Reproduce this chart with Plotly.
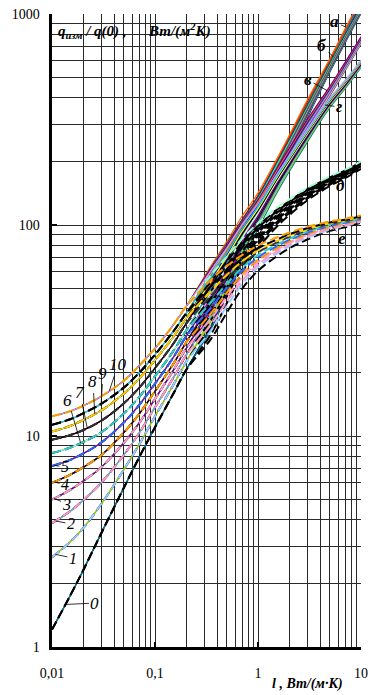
import numpy as np
import plotly.graph_objects as go

# ---------------- data ----------------
# numbered curves 0..10, common low-l part (all branches coincide there)
X_LOW = [0.01, 0.015, 0.02, 0.03, 0.05, 0.07, 0.1, 0.15, 0.2]
LOW_0 = [1.21, 1.75, 2.3, 3.45, 5.7, 7.9, 11.0, 15.8, 20.5]
LOW_1 = [2.66, 3.15, 3.65, 4.75, 6.95, 9.1, 12.4, 17.4, 22.4]
LOW_2 = [3.86, 4.4, 4.95, 6.0, 8.15, 10.3, 13.7, 18.8, 24.1]
LOW_3 = [5.0, 5.55, 6.1, 7.1, 9.3, 11.5, 15.0, 20.4, 25.9]
LOW_4 = [6.0, 6.55, 7.1, 8.1, 10.4, 12.7, 16.3, 21.9, 27.7]
LOW_5 = [7.2, 7.7, 8.25, 9.3, 11.6, 14.0, 17.7, 23.5, 29.6]
LOW_6 = [8.3, 8.8, 9.35, 10.4, 12.8, 15.3, 19.2, 25.2, 31.5]
LOW_7 = [9.6, 10.1, 10.65, 11.8, 14.3, 16.9, 21.0, 27.3, 34.0]
LOW_8 = [10.5, 11.15, 11.9, 13.2, 15.9, 18.7, 22.9, 29.4, 36.0]
LOW_9 = [11.3, 12.0, 12.8, 14.2, 17.0, 19.9, 24.3, 31.2, 38.0]
LOW_10 = [12.4, 13.1, 13.9, 15.4, 18.3, 21.5, 26.0, 33.5, 41.0]
LOW = [LOW_0, LOW_1, LOW_2, LOW_3, LOW_4, LOW_5, LOW_6, LOW_7, LOW_8, LOW_9, LOW_10]
NUMBERS = ["0", "1", "2", "3", "4", "5", "6", "7", "8", "9", "10"]

# branches а..е: top curve (curve 10) of each stack, high-l part
X_HIGH = [0.35, 0.5, 0.7, 1, 1.5, 2, 3, 5, 7, 10]
HIGH_A = [64, 84, 110, 142, 203, 265, 390, 615, 850, 1180]
HIGH_B = [63, 82, 106, 137, 195, 253, 368, 590, 800, 1090]
HIGH_V = [62, 80, 103, 132, 183, 230, 315, 455, 590, 780]
HIGH_G = [61, 78, 100, 126, 172, 212, 283, 400, 485, 605]
HIGH_D = [58, 71, 86, 102, 120, 132, 150, 170, 183, 200]
HIGH_E = [55, 64, 72, 80, 87, 92, 98, 104, 107, 111]
BRANCHES = ["а", "б", "в", "г", "д", "е"]
HIGH = [HIGH_A, HIGH_B, HIGH_V, HIGH_G, HIGH_D, HIGH_E]
# depth of the stack (log10 of top / bottom curve) at each X_HIGH
STACK_DEPTH = [0.28, 0.22, 0.16, 0.12, 0.09, 0.075, 0.06, 0.045, 0.04, 0.035]
# relative place of each numbered curve inside a stack (0 = top, 1 = bottom)
STACK_PLACE = [1.0, 0.86, 0.76, 0.66, 0.57, 0.47, 0.38, 0.27, 0.19, 0.11, 0.0]

X_TICKS = [0.01, 0.1, 1, 10]
X_TICKTEXT = ["0,01", "0,1", "1", "10"]
Y_TICKS = [1, 10, 100, 1000]
Y_TICKTEXT = ["1", "10", "100", "1000"]

# ---------------- styles ----------------
COLORS = {
    "а": ['#008080', '#99CC00', '#FF00FF', '#800080', '#000080', '#0000FF', '#00CCFF', '#993366', '#339966', '#FF0000', '#FF6600'],
    "б": ['#003366', '#33CCCC', '#800000', '#666699', '#008000', '#FF99CC', '#3366FF', '#993300', '#808000', '#00FFFF', '#404040'],
    "в": ['#333399', '#FFCC00', '#CC99FF', '#008080', '#FF00FF', '#99CCFF', '#339966', '#800080', '#0000FF', '#FF6600', '#800080'],
    "г": ['#008080', '#99CC00', '#33CCCC', '#800080', '#000000', '#800080', '#CCFFCC', '#000000', '#FFFF00', '#00CCFF', '#CC99FF'],
    "д": ['#000000'] * 10 + ['#99FFCC'],
    "е": ['#000000', '#99CCFF', '#FF99CC', '#FF99CC', '#FF9900', '#3366FF', '#33CCCC', '#333333', '#FFCC00', '#000000', '#FF9900'],
}
DASHED = {"д", "е"}
SERIF = "Liberation Serif"

L, R, T, B = 52, 9, 14, 48
W, H = 370, 695
PW, PH = W - L - R, H - T - B


def px(xv, yv):
    return (L + PW * (np.log10(xv) + 2) / 3.0, T + PH * (1 - np.log10(yv) / 3.0))


fig = go.Figure()
curves = {}
for bi, b in enumerate(BRANCHES):
    for n in range(11):
        xs = list(X_LOW) + list(X_HIGH)
        ys = list(LOW[n]) + [v * 10 ** (-STACK_PLACE[n] * d)
                             for v, d in zip(HIGH[bi], STACK_DEPTH)]
        curves[(b, n)] = (xs, ys)
        dashed = b in DASHED
        fig.add_trace(go.Scatter(
            x=xs, y=ys, mode="lines",
            line=dict(color=COLORS[b][n], width=2.0 if dashed else 1.2,
                      dash="9px,4px" if dashed else "solid",
                      shape="spline", smoothing=1.0),
            hoverinfo="skip", showlegend=False))


def on_curve(b, n, xv):
    xs, ys = curves[(b, n)]
    return 10 ** np.interp(np.log10(xv), np.log10(xs), np.log10(ys))


ann = []
NUM_LABEL = {0: (95, 603, 0.0135, 17), 1: (73, 558, 0.0108, 16), 2: (71, 524, 0.0108, 16),
             3: (67, 504, 0.0105, 16), 4: (65, 485, 0.0105, 16), 5: (65, 467, 0.0105, 16),
             6: (68, 400, 0.019, 17), 7: (80, 393, 0.022, 17), 8: (93, 382, 0.026, 17),
             9: (103, 373, 0.030, 17), 10: (118, 365, 0.036, 17)}
for n, (tx, ty, xt, fs) in NUM_LABEL.items():
    yt = on_curve("а", n, xt)
    cx, cy = px(xt, yt)
    ann.append(dict(x=np.log10(xt), y=np.log10(yt), xref="x", yref="y",
                    text="<i>%s</i>" % NUMBERS[n], showarrow=True, arrowhead=0,
                    arrowwidth=0.8, arrowcolor="black", ax=tx - cx, ay=ty - cy,
                    font=dict(family=SERIF, size=fs, color="black")))

BR_LABEL = {"а": (335, 22, 7.14, 10), "б": (322, 45, 5.35, 10), "в": (308, 80, 4.68, 10),
            "г": (339, 107, 4.47, 10), "д": (341, 186, 4.98, 6), "е": (342, 238, 5.1, 6)}
for b, (tx, ty, xt, n) in BR_LABEL.items():
    yt = on_curve(b, n, xt)
    cx, cy = px(xt, yt)
    ann.append(dict(x=np.log10(xt), y=np.log10(yt), xref="x", yref="y",
                    text="<b><i>%s</i></b>" % b, showarrow=True, arrowhead=0,
                    arrowwidth=0.8, arrowcolor="black", ax=tx - cx, ay=ty - cy,
                    font=dict(family=SERIF, size=17, color="black")))

ann.append(dict(x=(56 - L) / PW, y=(T + PH - 31) / PH, xref="paper", yref="paper",
                xanchor="left", yanchor="middle", showarrow=False,
                text="<b><i>q<sub>изм</sub> / q(0) ,      Вт/(м<sup>2</sup>К)</i></b>",
                font=dict(family=SERIF, size=15, color="black")))
ann.append(dict(x=(307 - L) / PW, y=(T + PH - 684) / PH, xref="paper", yref="paper",
                xanchor="center", yanchor="middle", showarrow=False,
                text="<b><i>l , Вт/(м·К)</i></b>",
                font=dict(family=SERIF, size=14, color="black")))

GRID = "#2a2a2a"
fig.update_layout(
    width=W, height=H, margin=dict(l=L, r=R, t=T, b=B, autoexpand=False),
    paper_bgcolor="white", plot_bgcolor="white", showlegend=False,
    hovermode=False, annotations=ann,
    xaxis=dict(type="log", range=[-2, 1], tickmode="array", tickvals=X_TICKS,
               ticktext=X_TICKTEXT, showgrid=True, gridcolor=GRID, gridwidth=1,
               minor=dict(dtick="D1", showgrid=True, gridcolor=GRID, gridwidth=1, ticks=""),
               showline=True, linecolor="black", linewidth=2.5, ticks="inside",
               ticklen=5, tickwidth=2, tickcolor="black", ticklabelstandoff=12,
               automargin=False,
               tickfont=dict(family=SERIF, size=14, color="black"), zeroline=False),
    yaxis=dict(type="log", range=[0, 3], tickmode="array", tickvals=Y_TICKS,
               ticktext=Y_TICKTEXT, showgrid=True, gridcolor=GRID, gridwidth=1,
               minor=dict(dtick="D1", showgrid=True, gridcolor=GRID, gridwidth=1, ticks=""),
               showline=True, linecolor="black", linewidth=3.5, ticks="inside",
               ticklen=5, tickwidth=2, tickcolor="black", ticklabelstandoff=6,
               automargin=False,
               tickfont=dict(family=SERIF, size=14, color="black"), zeroline=False),
)
fig.write_html("out.html", config={"displayModeBar": False, "staticPlot": True},
               post_script="document.body.style.margin='0';document.body.style.overflow='hidden';")
